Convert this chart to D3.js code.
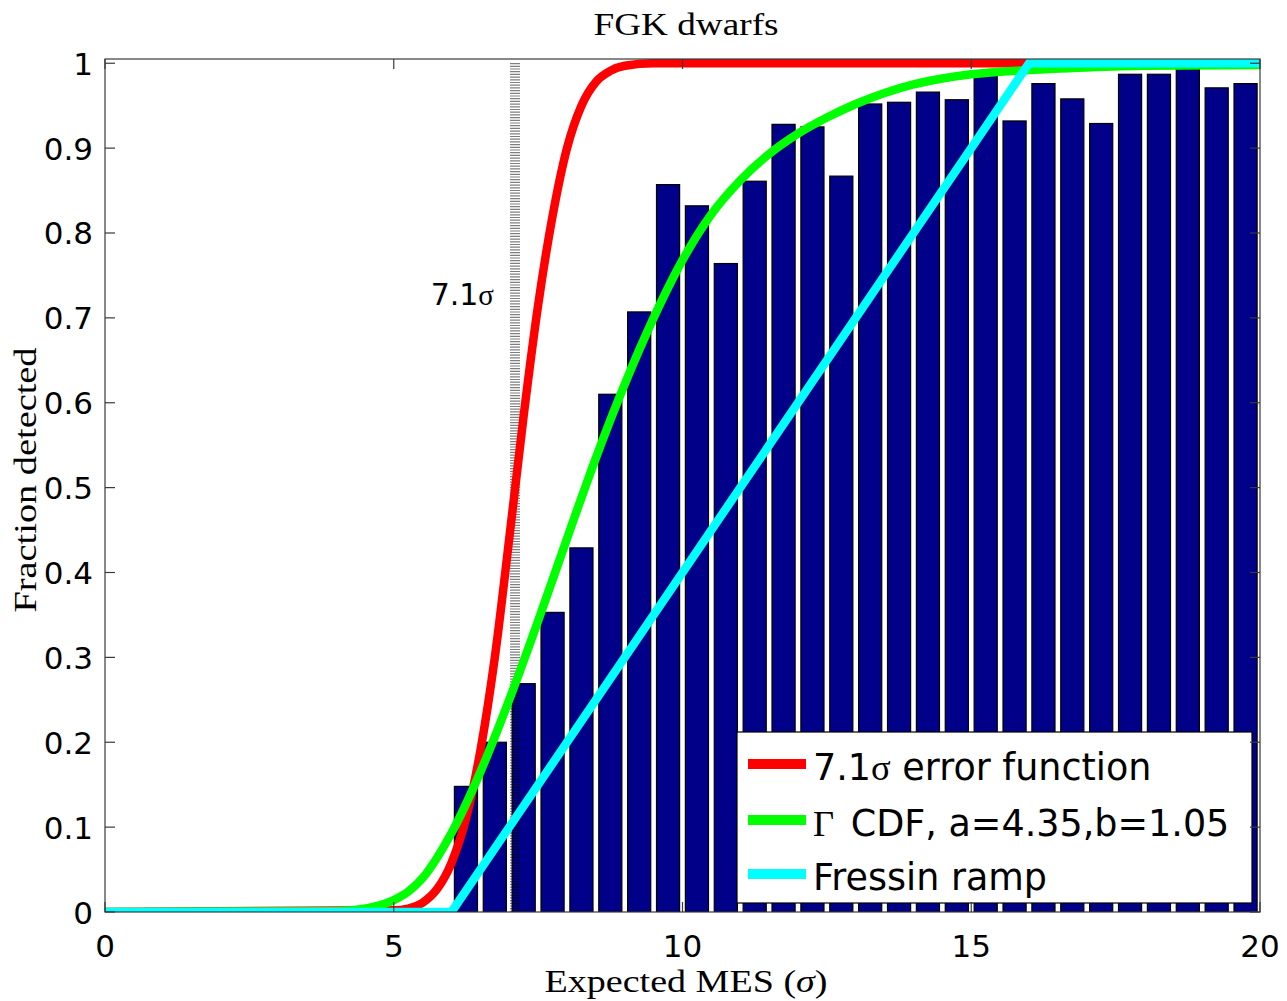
<!DOCTYPE html>
<html>
<head>
<meta charset="utf-8">
<script src="https://cdn.jsdelivr.net/npm/d3@7"></script>
<style>
  html, body { margin: 0; padding: 0; background: #fff; }
  svg { display: block; }
</style>
</head>
<body>
<svg id="chart" width="1287" height="1001"></svg>
<script>
// Detection efficiency for FGK dwarfs versus expected MES.
const binCenters = [6.25, 6.75, 7.25, 7.75, 8.25, 8.75, 9.25, 9.75, 10.25, 10.75,
                    11.25, 11.75, 12.25, 12.75, 13.25, 13.75, 14.25, 14.75, 15.25, 15.75,
                    16.25, 16.75, 17.25, 17.75, 18.25, 18.75, 19.25, 19.75];
const fractionDetected = [0.148, 0.200, 0.269, 0.353, 0.429, 0.610, 0.707, 0.857, 0.832, 0.764,
                          0.861, 0.928, 0.925, 0.867, 0.952, 0.954, 0.966, 0.957, 0.986, 0.932,
                          0.976, 0.958, 0.929, 0.987, 0.987, 0.993, 0.971, 0.976];

// 7.1 sigma error function
const erfX = [0, 5.0, 5.25, 5.5, 5.75, 6.0, 6.25, 6.5, 6.75, 7.0, 7.25, 7.5, 7.75, 8.0, 8.25, 8.5, 8.75, 9.0, 9.5, 16];
const erfY = [0, 0.002, 0.004, 0.011, 0.027, 0.058, 0.11, 0.19, 0.30, 0.44, 0.585, 0.715, 0.82, 0.90, 0.95, 0.978, 0.991, 0.997, 1.0, 1.0];

// Gamma CDF, a=4.35, b=1.05
const gamX = [0, 4.0, 4.5, 5.0, 5.25, 5.5, 5.75, 6.0, 6.5, 7.0, 7.5, 8.0, 8.5, 9.0, 9.5, 10.0, 10.5, 11.0, 11.5, 12.0, 12.5, 13.0, 13.5, 14.0, 14.5, 15.0, 16.0, 17.0, 18.0, 20.0];
const gamY = [0, 0.001, 0.004, 0.014, 0.024, 0.04, 0.064, 0.093, 0.165, 0.25, 0.343, 0.44, 0.535, 0.622, 0.70, 0.768, 0.822, 0.862, 0.893, 0.917, 0.936, 0.952, 0.965, 0.975, 0.982, 0.987, 0.992, 0.995, 0.997, 0.998];

// Fressin ramp
const rampX = [0, 6, 16, 20];
const rampY = [0, 0, 1, 1];

const xTicks = [0, 5, 10, 15, 20];
const yTicks = [0, 0.1, 0.2, 0.3, 0.4, 0.5, 0.6, 0.7, 0.8, 0.9, 1];
const threshold = 7.1;

const svg = d3.select("#chart");
const plotLeft = 105, plotRight = 1260, plotTop = 59, plotBottom = 912;

const x = d3.scaleLinear().domain([0, 20]).range([plotLeft, plotRight]);
const y = d3.scaleLinear().domain([0, 1.005]).range([plotBottom, plotTop]);

svg.append("defs").append("clipPath").attr("id", "plotClip")
  .append("rect").attr("x", plotLeft).attr("y", plotTop)
  .attr("width", plotRight - plotLeft).attr("height", plotBottom - plotTop);

const plot = svg.append("g").attr("clip-path", "url(#plotClip)");

// histogram bars
const barHalf = 0.2;
plot.append("g").selectAll("rect")
  .data(binCenters.map((c, i) => ({ c, v: fractionDetected[i] })))
  .join("rect")
  .attr("x", d => x(d.c - barHalf))
  .attr("width", d => x(d.c + barHalf) - x(d.c - barHalf))
  .attr("y", d => y(d.v))
  .attr("height", d => y(0) - y(d.v))
  .attr("fill", "#000088")
  .attr("stroke", "#000")
  .attr("stroke-width", 1.2);

// dotted threshold marker
plot.append("line")
  .attr("x1", x(threshold)).attr("x2", x(threshold))
  .attr("y1", y(0)).attr("y2", y(1) - 1)
  .attr("stroke", "#000").attr("stroke-opacity", 0.5)
  .attr("stroke-width", 10)
  .attr("stroke-dasharray", "1.2 1.5");

const pts = (xs, ys) => xs.map((v, i) => [v, ys[i]]);
const smooth = d3.line().x(d => x(d[0])).y(d => y(d[1])).curve(d3.curveMonotoneX);
const straight = d3.line().x(d => x(d[0])).y(d => y(d[1]));

const lw = 8.5;
plot.append("path").attr("d", smooth(pts(erfX, erfY)))
  .attr("fill", "none").attr("stroke", "#ff0000").attr("stroke-width", lw).attr("stroke-linejoin", "round");
plot.append("path").attr("d", smooth(pts(gamX, gamY)))
  .attr("fill", "none").attr("stroke", "#00ff00").attr("stroke-width", lw).attr("stroke-linejoin", "round");
plot.append("path").attr("d", straight(pts(rampX, rampY)))
  .attr("fill", "none").attr("stroke", "#00ffff").attr("stroke-width", lw).attr("stroke-linejoin", "miter");

// threshold label
const lbl = svg.append("text")
  .attr("x", 494).attr("y", 305)
  .attr("text-anchor", "end")
  .attr("font-family", "DejaVu Sans").attr("font-size", 30).attr("fill", "#000");
lbl.append("tspan").text("7.1");
lbl.append("tspan").attr("font-family", "Liberation Serif").attr("font-size", 29).text("σ");

// legend
const lg = svg.append("g");
lg.append("rect").attr("x", 737).attr("y", 732).attr("width", 515).attr("height", 171)
  .attr("fill", "#fff").attr("stroke", "#000").attr("stroke-width", 1.2);
const entries = [
  { color: "#ff0000", y: 764, parts: [["7.1", "DejaVu Sans", 0], ["σ", "Liberation Serif", 0], [" error function", "DejaVu Sans", 0]] },
  { color: "#00ff00", y: 820, parts: [["Γ", "Liberation Serif", 0], [" CDF, a=4.35,b=1.05", "DejaVu Sans", 5]] },
  { color: "#00ffff", y: 874, parts: [["Fressin ramp", "DejaVu Sans", 0]] }
];
entries.forEach(e => {
  lg.append("line").attr("x1", 748).attr("x2", 806).attr("y1", e.y).attr("y2", e.y)
    .attr("stroke", e.color).attr("stroke-width", 10);
  const t = lg.append("text").attr("x", 813).attr("y", e.y + 16)
    .attr("font-size", 36.5).attr("fill", "#000")
    .style("white-space", "pre");
  e.parts.forEach(p => t.append("tspan").attr("font-family", p[1]).attr("dx", p[2]).text(p[0]));
});

// axes box
const axisColor = "#3a3a3a";
svg.append("rect").attr("x", plotLeft).attr("y", plotTop)
  .attr("width", plotRight - plotLeft).attr("height", plotBottom - plotTop)
  .attr("fill", "none").attr("stroke", axisColor).attr("stroke-width", 1.2);

const tickLen = 10;
const ax = svg.append("g").attr("stroke", axisColor).attr("stroke-width", 1.2);
xTicks.forEach(t => {
  ax.append("line").attr("x1", x(t)).attr("x2", x(t)).attr("y1", plotBottom).attr("y2", plotBottom - tickLen);
  ax.append("line").attr("x1", x(t)).attr("x2", x(t)).attr("y1", plotTop).attr("y2", plotTop + tickLen);
});
yTicks.forEach(t => {
  ax.append("line").attr("x1", plotLeft).attr("x2", plotLeft + tickLen).attr("y1", y(t)).attr("y2", y(t));
  ax.append("line").attr("x1", plotRight).attr("x2", plotRight - tickLen).attr("y1", y(t)).attr("y2", y(t));
});

svg.append("g").selectAll("text").data(xTicks).join("text")
  .attr("x", d => x(d)).attr("y", 957)
  .attr("text-anchor", "middle")
  .attr("font-family", "DejaVu Sans").attr("font-size", 31).attr("fill", "#000")
  .text(d => d3.format("")(d));

svg.append("g").selectAll("text").data(yTicks).join("text")
  .attr("x", 93).attr("y", d => y(d) + 11.5)
  .attr("text-anchor", "end")
  .attr("font-family", "DejaVu Sans").attr("font-size", 31).attr("fill", "#000")
  .text(d => d3.format("")(d));

// titles
svg.append("text").attr("x", 686).attr("y", 35)
  .attr("text-anchor", "middle").attr("font-family", "Liberation Serif").attr("font-size", 32)
  .attr("textLength", 185).attr("lengthAdjust", "spacingAndGlyphs")
  .text("FGK dwarfs");

const xl = svg.append("text").attr("x", 686).attr("y", 992)
  .attr("text-anchor", "middle").attr("font-family", "Liberation Serif").attr("font-size", 32)
  .attr("textLength", 283).attr("lengthAdjust", "spacingAndGlyphs");
xl.append("tspan").text("Expected MES (");
xl.append("tspan").attr("font-style", "italic").text("σ");
xl.append("tspan").text(")");

svg.append("text")
  .attr("transform", "translate(36,480) rotate(-90)")
  .attr("text-anchor", "middle").attr("font-family", "Liberation Serif").attr("font-size", 32)
  .attr("textLength", 265).attr("lengthAdjust", "spacingAndGlyphs")
  .text("Fraction detected");
</script>
</body>
</html>
